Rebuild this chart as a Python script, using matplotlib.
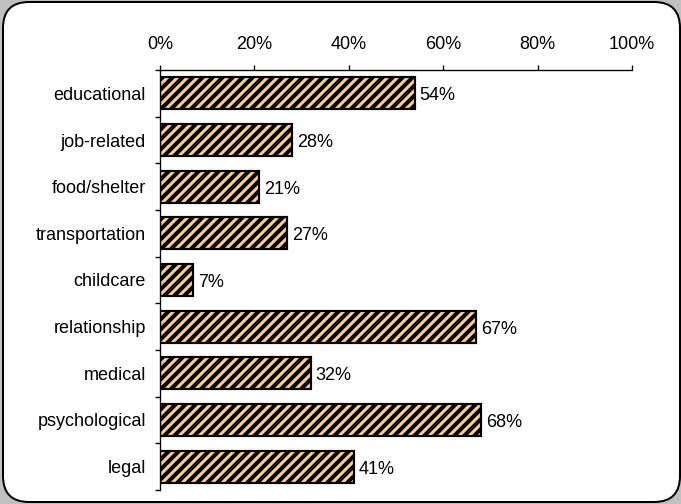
import numpy as np
import matplotlib.pyplot as plt
from matplotlib.patches import FancyBboxPatch
from matplotlib.transforms import IdentityTransform

plt.rcParams["font.family"] = ["Liberation Sans", "DejaVu Sans"]
plt.rcParams["hatch.linewidth"] = 2.4
plt.rcParams["hatch.color"] = "#262626"

categories = ["educational", "job-related", "food/shelter", "transportation",
              "childcare", "relationship", "medical", "psychological", "legal"]
percents = [54, 28, 21, 27, 7, 67, 32, 68, 41]
x_ticks = [0, 20, 40, 60, 80, 100]

DPI = 120
FS = 10.8
fig = plt.figure(figsize=(681 / DPI, 504 / DPI), dpi=DPI, facecolor="#c0c0c0")

# white rounded panel, behind the axes
frame = FancyBboxPatch((3, 2), 677, 500, boxstyle="round,pad=0,rounding_size=26",
                       transform=IdentityTransform(), facecolor="white",
                       edgecolor="black", linewidth=1.2, zorder=-10)
fig.patches.append(frame)

ax = fig.add_axes([160 / 681, 1 - 490 / 504, 472 / 681, 420 / 504])
ax.set_facecolor("none")
ax.set_zorder(5)

y = np.arange(len(categories))
ax.barh(y, percents, height=0.68, color="#ffcc99", edgecolor="black",
        linewidth=1.3, hatch="////")
for yi, p in zip(y, percents):
    ax.text(p + 1.0, yi + 0.05, f"{p}%", va="center", ha="left", fontsize=FS)

ax.set_xlim(0, 100)
ax.set_ylim(len(categories) - 0.5, -0.5)

ax.xaxis.tick_top()
ax.set_xticks(x_ticks)
ax.set_xticklabels([f"{t}%" for t in x_ticks])
ax.tick_params(axis="x", direction="out", length=3, width=0.8, pad=7, labelsize=FS)

ax.set_yticks(np.arange(-0.5, len(categories)), minor=False)
ax.set_yticklabels([])
ax.set_yticks(y, minor=True)
ax.set_yticklabels(categories, minor=True)
ax.tick_params(axis="y", which="major", direction="out", length=3, width=0.8)
ax.tick_params(axis="y", which="minor", length=0, pad=8.5, labelsize=FS)

for side in ["right", "bottom"]:
    ax.spines[side].set_visible(False)
for side in ["top", "left"]:
    ax.spines[side].set_linewidth(0.8)

fig.savefig("out.png", dpi=DPI, facecolor=fig.get_facecolor())
